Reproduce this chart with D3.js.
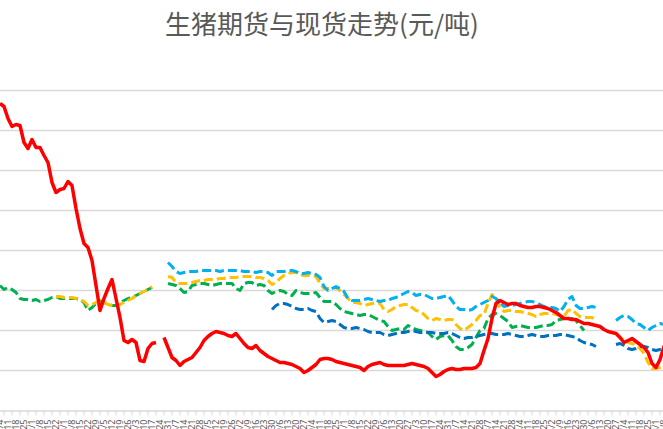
<!DOCTYPE html>
<html>
<head>
<meta charset="utf-8">
<script src="https://cdn.jsdelivr.net/npm/d3@7"></script>
<style>
body { margin: 0; background: #fff; }
svg { display: block; font-family: "Noto Sans CJK SC", "Noto Sans", sans-serif; }
</style>
</head>
<body>
<svg id="svg" width="663" height="429"></svg>
<script>
// categories: trading dates (Mon / Thu)
var dates = [
  "2021/1/4","2021/1/7","2021/1/11","2021/1/14","2021/1/18","2021/1/21","2021/1/25","2021/1/28",
  "2021/2/1","2021/2/4","2021/2/8","2021/2/11","2021/2/15","2021/2/18","2021/2/22","2021/2/25",
  "2021/3/1","2021/3/4","2021/3/8","2021/3/11","2021/3/15","2021/3/18","2021/3/22","2021/3/25","2021/3/29",
  "2021/4/1","2021/4/5","2021/4/8","2021/4/12","2021/4/15","2021/4/19","2021/4/22","2021/4/26","2021/4/29",
  "2021/5/3","2021/5/6","2021/5/10","2021/5/13","2021/5/17","2021/5/20","2021/5/24","2021/5/27","2021/5/31",
  "2021/6/3","2021/6/7","2021/6/10","2021/6/14","2021/6/17","2021/6/21","2021/6/24","2021/6/28",
  "2021/7/1","2021/7/5","2021/7/8","2021/7/12","2021/7/15","2021/7/19","2021/7/22","2021/7/26","2021/7/29",
  "2021/8/2","2021/8/5","2021/8/9","2021/8/12","2021/8/16","2021/8/19","2021/8/23","2021/8/26","2021/8/30",
  "2021/9/2","2021/9/6","2021/9/9","2021/9/13","2021/9/16","2021/9/20","2021/9/23","2021/9/27","2021/9/30",
  "2021/10/4","2021/10/7","2021/10/11","2021/10/14","2021/10/18","2021/10/21","2021/10/25","2021/10/28",
  "2021/11/1","2021/11/4","2021/11/8","2021/11/11","2021/11/15","2021/11/18","2021/11/22","2021/11/25","2021/11/29",
  "2021/12/2","2021/12/6","2021/12/9","2021/12/13","2021/12/16","2021/12/20","2021/12/23","2021/12/27","2021/12/30",
  "2022/1/3","2022/1/6","2022/1/10","2022/1/13","2022/1/17","2022/1/20","2022/1/24","2022/1/27","2022/1/31",
  "2022/2/3","2022/2/7","2022/2/10","2022/2/14","2022/2/17","2022/2/21","2022/2/24","2022/2/28",
  "2022/3/3","2022/3/7","2022/3/10","2022/3/14","2022/3/17","2022/3/21","2022/3/24","2022/3/28","2022/3/31",
  "2022/4/4","2022/4/7","2022/4/11","2022/4/14","2022/4/18","2022/4/21","2022/4/25","2022/4/28",
  "2022/5/2","2022/5/5","2022/5/9","2022/5/12","2022/5/16","2022/5/19","2022/5/23","2022/5/26","2022/5/30",
  "2022/6/2","2022/6/6","2022/6/9","2022/6/13","2022/6/16","2022/6/20","2022/6/23","2022/6/27","2022/6/30",
  "2022/7/4","2022/7/7","2022/7/11","2022/7/14","2022/7/18","2022/7/21","2022/7/25","2022/7/28",
  "2022/8/1","2022/8/4","2022/8/8","2022/8/11"
];

// 现货 (spot)
var spot = [
  38700,38400,37200,36400,36600,36500,34800,34200,35100,34300,
  34300,33500,32800,30800,29800,30100,30200,30900,30500,28200,
  26200,24700,24300,23000,20500,18000,19200,20200,21100,19200,
  17300,15000,14800,15100,14800,13000,12900,14200,14700,14800,
  null,15300,14300,13300,13000,12500,12900,13100,13300,13800,
  14300,15000,15400,15700,15900,15800,15700,15500,15400,15700,
  15200,14700,14300,14200,14500,14000,13700,13400,13200,13000,
  12800,12800,12700,12600,12400,12200,11800,12000,12300,12600,
  13100,13200,13200,13100,12900,12800,12700,12600,12500,12400,
  12300,12000,12400,12600,12700,12800,12600,12500,12500,12500,
  12500,12500,12600,12700,12600,12500,12400,12200,11800,11400,
  11600,11900,12100,12200,12100,12100,12200,12200,12200,12300,
  12700,14000,15200,17200,18700,19000,18800,18600,18700,18700,
  18500,18400,18300,18300,18400,18400,18300,18200,18000,17800,
  17500,17200,17200,17100,17100,16900,16700,16700,16600,16500,
  16400,16100,15900,15800,15700,15300,14800,15000,15200,14900,
  14600,14300,13800,12700,12300,13100,14400,15000
];

// futures contracts
var lh2109 = [
  20500,20100,20300,20100,19800,19200,19100,19100,19000,19100,
  18900,19000,19100,19300,19400,19200,19200,19200,19200,19200,
  19100,18800,18000,18300,18700,19000,18800,18600,18500,18500,
  18800,19000,19200,19300,19500,19700,19900,20100,20300,null,
  null,null,20700,20600,20500,20200,19800,19900,20500,20600,
  20700,20700,20600,20500,20600,20700,20700,20700,20700,20200,
  20000,20700,20800,20800,20500,20600,20500,20000,19700,19900,
  20000,19900,19600,19500,20000,19800,19700,19700,19700,19800,
  19300,18900,18900,18900,18600,18200,17900,17800,17700,17600,
  17500,17600,17600,17400,17200,17000,16900,16400,16000,16100,
  16200,16100,16500,16300,16100,16000,15900,15800,15400,15100,
  15400,15500,15500,15000,14400,14100,14100,14300,14600,15300,
  16000,16200,17200,17600,17700,17500,17200,16900,16300,16400,
  16500,16400,16300,16300,16300,16400,16500,16500,16600,17000,
  17100,17200,17200,17200,17000,16500,16000,null,null,null,
  null,null,null,null,null,null,null,null,null,null,
  null,null,null,null,null,null,null,null
];
var lh2111 = [
  null,null,null,null,null,null,null,null,null,null,
  null,null,null,null,19400,19400,19300,19300,19300,19200,
  19100,18900,18500,18600,18800,19000,18800,18600,18500,18400,
  18600,18800,19000,19200,19500,19700,19900,20100,20400,null,
  null,null,21400,21300,20800,20700,20700,20700,20800,20900,
  21000,21000,21100,21100,21100,21200,21200,21300,21300,21300,
  21400,21400,21400,21400,21300,21300,21200,21000,20600,20800,
  21200,21500,21700,21800,21800,21600,21500,21500,21500,21400,
  20700,20200,20200,20200,20300,20000,19600,19200,18800,18800,
  18700,18500,18600,18700,18800,18700,18100,17900,18100,18400,
  18500,18600,18600,18300,18000,17900,17600,17200,17000,17200,
  17100,17000,17100,17100,16600,16200,16000,16300,16600,17000,
  17500,17600,18700,19600,19200,18300,17900,18000,18000,17900,
  17900,17800,17700,17600,17400,17600,17700,17700,17700,17600,
  17500,17400,18000,18100,17700,17400,17300,17300,17300,17000,
  null,null,null,null,15700,15300,15000,14800,14700,14500,
  14200,13700,12800,12200,12200,12300,12600,12800
];
var lh2201 = [
  null,null,null,null,null,null,null,null,null,null,
  null,null,null,null,null,null,null,null,null,null,
  null,null,null,null,null,null,null,null,null,null,
  null,null,null,null,null,null,null,null,null,null,
  null,null,22800,22400,21900,21700,21800,21900,21900,21900,
  22000,22000,22000,22000,22000,21900,22000,22000,22000,22000,
  22000,21900,21900,21900,21800,21900,21900,21800,21500,21900,
  21900,21900,22000,22000,21900,21700,21700,21800,21700,21600,
  21300,20400,20000,20200,20400,20200,19900,19200,19000,19000,
  19000,19100,19200,19100,19000,18900,19000,19000,19200,19300,
  19500,19700,19900,19800,19500,19600,19600,19400,19200,19200,
  19300,19400,19500,19000,18400,18100,18100,18000,18100,18400,
  18600,18800,19000,19400,19200,18800,18400,18500,18500,18600,
  18700,18800,18900,18900,18800,18600,18400,18300,18300,18200,
  17900,18400,19100,19400,18500,18200,18200,18300,18400,18300,
  null,null,null,null,17000,17300,17500,17400,17100,16700,
  16600,16300,16000,16300,16500,16700,16600,16500
];
var lh2203 = [
  null,null,null,null,null,null,null,null,null,null,
  null,null,null,null,null,null,null,null,null,null,
  null,null,null,null,null,null,null,null,null,null,
  null,null,null,null,null,null,null,null,null,null,
  null,null,null,null,null,null,null,null,null,null,
  null,null,null,null,null,null,null,null,null,null,
  null,null,null,null,null,null,null,null,18100,18500,
  18700,18700,18600,18400,18200,18100,18100,18200,18000,17900,
  17200,16800,16900,17000,16900,16600,16300,16200,16200,16300,
  16200,16100,15900,15800,15800,15800,15600,15500,15600,15700,
  15800,15800,15900,16000,15900,15800,15800,15800,15800,15700,
  15700,15700,15800,15700,15500,15300,15200,15300,15300,15400,
  15500,15600,15700,15700,15600,15600,15600,15700,15600,15500,
  15400,15400,15500,15600,15500,15400,15400,15500,15500,15500,
  15600,15600,15500,15400,15300,15000,14800,14700,14600,14400,
  null,null,null,null,14600,14700,14500,14200,14100,14200,
  14400,14400,14300,14100,14000,14100,14100,14100
];

var yTicks = [12000, 16000, 20000, 24000, 28000, 32000, 36000, 40000];

var svg = d3.select("#svg"),
  W = +svg.attr("width"),
  plotBottom = 410.5,
  plotTop = 90.5,
  step = 4;

var x = d3.scaleBand().domain(dates).range([-step / 2, -step / 2 + step * dates.length]),
  y = d3.scaleLinear().domain([8000, 40000]).range([plotBottom, plotTop]);

function cx(d) { return x(d) + x.bandwidth() / 2; }

// title
svg.append("text")
  .attr("x", 322)
  .attr("y", 34)
  .attr("text-anchor", "middle")
  .attr("font-size", 26)
  .attr("fill", "#595959")
  .text("生猪期货与现货走势(元/吨)");

// gridlines
svg.append("g")
  .attr("class", "grid")
  .selectAll("line")
  .data(yTicks)
  .enter()
  .append("line")
  .attr("x1", 0)
  .attr("x2", W)
  .attr("y1", function (d) { return y(d); })
  .attr("y2", function (d) { return y(d); })
  .attr("stroke", "#d9d9d9")
  .attr("stroke-width", 1.3);

// x axis: labels on every other date, tick marks in between
var labelDates = dates.filter(function (d, i) { return i % 2 === 0; }),
  tickDates = dates.filter(function (d, i) { return i % 2 === 1; });

var xTicks = svg.append("g")
  .attr("transform", "translate(0," + plotBottom + ")")
  .call(d3.axisBottom(x).tickValues(tickDates).tickSize(5).tickFormat(""));
xTicks.select(".domain").attr("stroke", "#d9d9d9").attr("stroke-width", 1.3);
xTicks.selectAll(".tick line").attr("stroke", "#d9d9d9");

var xAxis = svg.append("g")
  .attr("transform", "translate(0," + plotBottom + ")")
  .call(d3.axisBottom(x).tickValues(labelDates).tickSize(0));
xAxis.select(".domain").remove();
xAxis.selectAll("text")
  .attr("transform", "rotate(-90)")
  .attr("x", -9)
  .attr("y", 0)
  .attr("dy", "0.32em")
  .attr("text-anchor", "end")
  .attr("fill", "#595959")
  .attr("font-size", 9)
  .attr("font-family", "Noto Sans, sans-serif");

var series = [
  {name: "LH2109", values: lh2109, color: "#00B050", dash: "9,4", width: 3},
  {name: "LH2111", values: lh2111, color: "#FFC000", dash: "9,4", width: 3},
  {name: "LH2201", values: lh2201, color: "#00B0F0", dash: "9,4", width: 3},
  {name: "LH2203", values: lh2203, color: "#0070C0", dash: "9,4", width: 3},
  {name: "现货", values: spot, color: "#FF0000", dash: null, width: 3.5}
];

var line = d3.line()
  .defined(function (d) { return d.v != null; })
  .x(function (d) { return cx(d.date); })
  .y(function (d) { return y(d.v); });

svg.append("g")
  .selectAll("path")
  .data(series)
  .enter()
  .append("path")
  .attr("fill", "none")
  .attr("stroke", function (d) { return d.color; })
  .attr("stroke-width", function (d) { return d.width; })
  .attr("stroke-linejoin", "round")
  .attr("stroke-dasharray", function (d) { return d.dash; })
  .attr("d", function (d) {
    return line(d.values.map(function (v, i) { return {date: dates[i], v: v}; }));
  });
</script>
</body>
</html>
